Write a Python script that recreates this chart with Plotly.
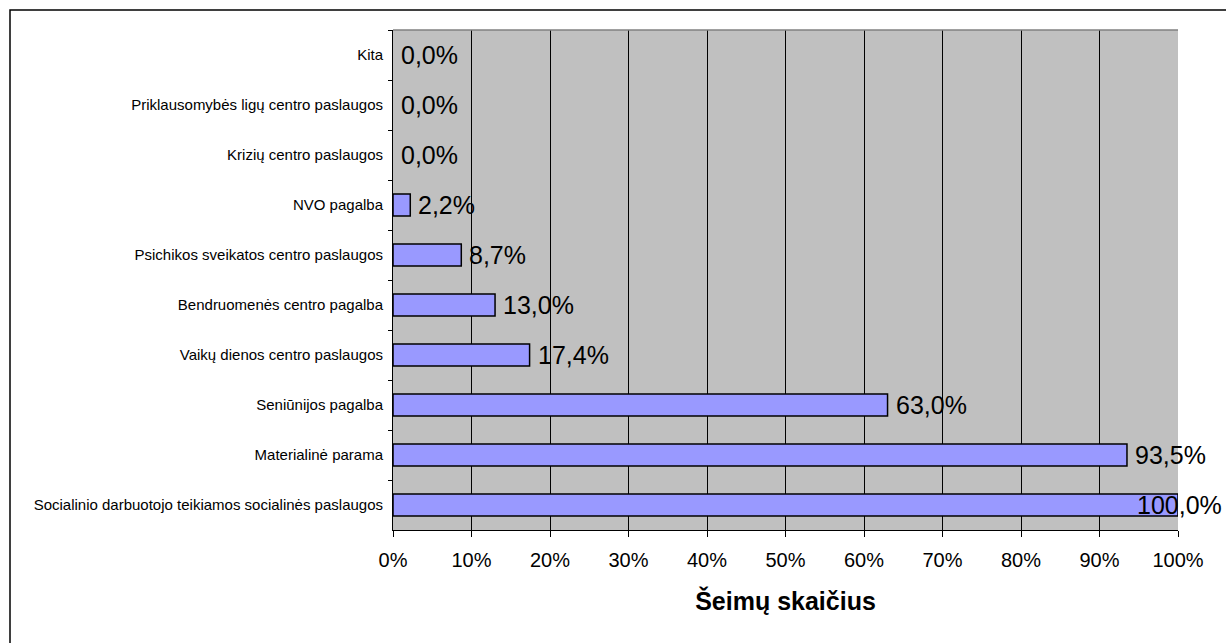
import plotly.graph_objects as go

# Services received by families (share of families, %)
categories = [
    "Kita",
    "Priklausomybės ligų centro paslaugos",
    "Krizių centro paslaugos",
    "NVO pagalba",
    "Psichikos sveikatos centro paslaugos",
    "Bendruomenės centro pagalba",
    "Vaikų dienos centro paslaugos",
    "Seniūnijos pagalba",
    "Materialinė parama",
    "Socialinio darbuotojo teikiamos socialinės paslaugos",
]
shares = [0.0, 0.0, 0.0, 2.2, 8.7, 13.0, 17.4, 63.0, 93.5, 100.0]
x_ticks = [0, 10, 20, 30, 40, 50, 60, 70, 80, 90, 100]
x_tick_labels = ["0%", "10%", "20%", "30%", "40%", "50%", "60%", "70%", "80%", "90%", "100%"]
x_title = "Šeimų skaičius"

FONT = "Liberation Sans, Arial, sans-serif"
W, H = 1226, 643
M_L, M_R, M_T, M_B = 393, 48, 30, 113

fig = go.Figure(
    go.Bar(
        x=shares,
        y=categories,
        orientation="h",
        width=0.44,
        marker=dict(
            color="#9999FF",
            line=dict(color="#000000", width=[1.5 if v > 0 else 0 for v in shares]),
        ),
        hoverinfo="x+y",
    )
)

# Value labels beside each bar; the last one is pulled back so it stays in view
plot_w = W - M_L - M_R
annotations = []
for cat, v in zip(categories, shares):
    label = f"{v:.1f}".replace(".", ",") + "%"
    if v >= 95:
        annotations.append(dict(x=v, y=cat, xref="x", yref="y", text=label,
                                showarrow=False, xanchor="right", xshift=46,
                                font=dict(family=FONT, size=25, color="#000000")))
    else:
        annotations.append(dict(x=v, y=cat, xref="x", yref="y", text=label,
                                showarrow=False, xanchor="left", xshift=6,
                                font=dict(family=FONT, size=25, color="#000000")))

# Outer frame of the chart (left and top edges visible)
px0 = (10 - M_L) / plot_w
py1 = ((H - M_B) - 10) / (H - M_T - M_B)
shapes = [
    dict(type="rect", xref="paper", yref="paper", x0=px0, x1=3, y0=-3, y1=py1,
         line=dict(color="#000000", width=1.5), fillcolor="rgba(0,0,0,0)"),
]

fig.update_layout(
    width=W, height=H,
    margin=dict(l=M_L, r=M_R, t=M_T, b=M_B, pad=0),
    paper_bgcolor="#FFFFFF",
    plot_bgcolor="#C0C0C0",
    showlegend=False,
    bargap=0.56,
    annotations=annotations,
    shapes=shapes,
    font=dict(family=FONT, color="#000000"),
)

fig.update_xaxes(
    range=[0, 100],
    tickvals=x_ticks,
    ticktext=x_tick_labels,
    showgrid=True, gridcolor="#000000", gridwidth=1,
    zeroline=False,
    showline=True, linecolor="#000000", linewidth=1,
    mirror=False,
    ticks="outside", ticklen=6, tickcolor="#000000", tickwidth=1,
    ticklabelstandoff=6,
    tickfont=dict(family=FONT, size=20, color="#000000"),
    title=dict(text=f"<b>{x_title}</b>", font=dict(family=FONT, size=25, color="#000000"),
               standoff=22),
    fixedrange=True,
)

fig.update_yaxes(
    categoryorder="array", categoryarray=categories,
    autorange="reversed",
    tickson="boundaries",
    showgrid=False,
    showline=True, linecolor="#000000", linewidth=1,
    ticks="outside", ticklen=4, tickcolor="#000000", tickwidth=1,
    ticklabelstandoff=6,
    tickfont=dict(family=FONT, size=15, color="#000000"),
    fixedrange=True,
)

# Grey frame along the top edge of the plotting area
fig.add_shape(type="line", xref="paper", yref="paper", x0=0, x1=1, y0=1, y1=1,
              line=dict(color="#808080", width=1.5))

fig.write_html("out.html")
